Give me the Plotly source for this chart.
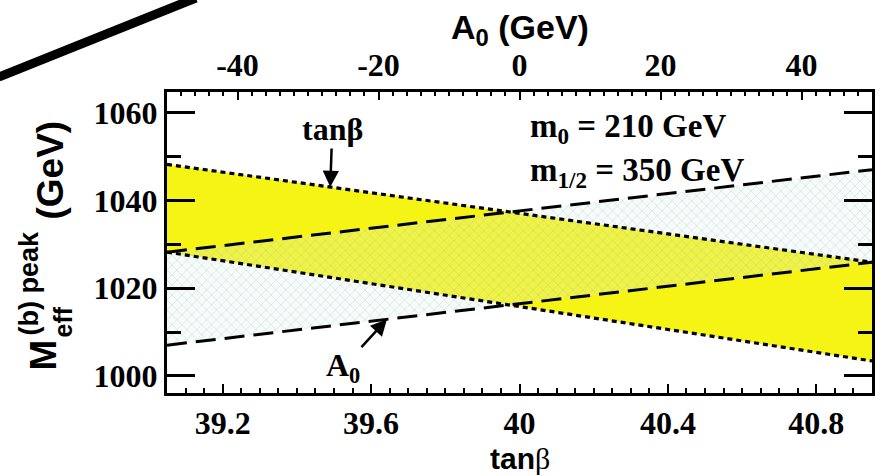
import numpy as np
import plotly.graph_objects as go

# M_eff peak position versus tan(beta) (bottom axis): edges of the band
tanb = [39.05, 40.95]
m_tanb_hi = [1048.2, 1025.9]
m_tanb_lo = [1028.2, 1003.4]

# M_eff peak position versus A0 (top axis): edges of the band
a0 = [-50.0, 50.0]
m_a0_hi = [1028.2, 1047.0]
m_a0_lo = [1007.0, 1025.9]

tanb_ticks = [39.2, 39.6, 40.0, 40.4, 40.8]
tanb_labels = ["39.2", "39.6", "40", "40.4", "40.8"]
a0_ticks = [-40, -20, 0, 20, 40]
a0_labels = ["-40", "-20", "0", "20", "40"]
m_ticks = [1000, 1020, 1040, 1060]
m_labels = ["1000", "1020", "1040", "1060"]

# canvas and plot-area geometry (pixels)
W, H = 885, 476
L, R, T, B = 167, 10, 92, 83
PW, PH = W - L - R, H - T - B


def px(x):
    return (x - L) / PW


def py(y):
    return (H - B - y) / PH


SERIF = "Liberation Serif"
SANS = "Liberation Sans"
tickfont = dict(family=SERIF, size=32, color="black", weight="bold")

fig = go.Figure()

# yellow tan(beta) band
fig.add_trace(go.Scatter(
    x=tanb + tanb[::-1], y=m_tanb_hi + m_tanb_lo[::-1],
    fill="toself", fillcolor="#f6f414", mode="lines", line=dict(width=0),
    xaxis="x", yaxis="y", hoverinfo="skip"))

# cross-hatched A0 band
fig.add_trace(go.Scatter(
    x=a0 + a0[::-1], y=m_a0_hi + m_a0_lo[::-1],
    fill="toself", fillcolor="rgba(220,242,236,0.22)",
    fillpattern=dict(shape="x", size=7, solidity=0.15, fgcolor="#93bdb0",
                     fillmode="overlay"),
    mode="lines", line=dict(width=0),
    xaxis="x2", yaxis="y", hoverinfo="skip"))

# dashed A0 edges
for ys in (m_a0_hi, m_a0_lo):
    fig.add_trace(go.Scatter(
        x=a0, y=ys, mode="lines",
        line=dict(color="black", width=3, dash="20px,9px"),
        xaxis="x2", yaxis="y", hoverinfo="skip"))

# dotted tan(beta) edges, on a hidden copy of the bottom axis so they sit on top
for ys in (m_tanb_hi, m_tanb_lo):
    fig.add_trace(go.Scatter(
        x=tanb, y=ys, mode="lines",
        line=dict(color="black", width=3.2, dash="5px,4px"),
        xaxis="x3", yaxis="y", hoverinfo="skip"))

fig.update_layout(
    width=W, height=H, margin=dict(l=L, r=R, t=T, b=B),
    paper_bgcolor="white", plot_bgcolor="white", showlegend=False,
    xaxis=dict(
        range=[tanb[0], tanb[1]], tickmode="array", tickvals=tanb_ticks,
        ticktext=tanb_labels, ticks="inside", ticklen=9, tickwidth=2,
        tickcolor="black", showline=True, linewidth=3, linecolor="black",
        showgrid=False, zeroline=False, tickfont=tickfont,
        minor=dict(tickmode="linear", tick0=39.0, dtick=0.05, ticks="inside",
                   ticklen=5, tickwidth=2, tickcolor="black", showgrid=False)),
    xaxis2=dict(
        overlaying="x", side="top", anchor="y", range=[a0[0], a0[1]],
        tickmode="array", tickvals=a0_ticks, ticktext=a0_labels,
        ticks="inside", ticklen=8, tickwidth=2, tickcolor="black",
        showline=True, linewidth=3, linecolor="black", showgrid=False,
        zeroline=False, tickfont=tickfont,
        minor=dict(tickmode="linear", tick0=-50, dtick=2, ticks="inside",
                   ticklen=4, tickwidth=2, tickcolor="black", showgrid=False)),
    xaxis3=dict(overlaying="x", anchor="y", range=[tanb[0], tanb[1]],
                visible=False),
    yaxis=dict(
        range=[996.1, 1064.7], tickmode="array", tickvals=m_ticks,
        ticktext=m_labels, ticks="inside", ticklen=28, tickwidth=2.5,
        tickcolor="black", showline=True, linewidth=3, linecolor="black",
        mirror="ticks", showgrid=False, zeroline=False, tickfont=tickfont,
        minor=dict(tickmode="linear", tick0=1000, dtick=10, ticks="inside",
                   ticklen=14, tickwidth=2.5, tickcolor="black",
                   showgrid=False)),
)

ann = []
# parameter labels
ann.append(dict(xref="paper", yref="paper", x=px(530), y=py(128),
                xanchor="left", yanchor="middle", showarrow=False,
                text="m<sub>0</sub> = 210 GeV",
                font=dict(family=SERIF, size=33, color="black", weight="bold")))
ann.append(dict(xref="paper", yref="paper", x=px(530), y=py(172),
                xanchor="left", yanchor="middle", showarrow=False,
                text="m<sub>1/2</sub> = 350 GeV",
                font=dict(family=SERIF, size=33, color="black", weight="bold")))

# arrows pointing at the band edges
tb_pt = 39.49
ann.append(dict(xref="x", yref="y", x=tb_pt,
                y=float(np.interp(tb_pt, tanb, m_tanb_hi)),
                ax=2, ay=-58, text="tanβ", showarrow=True,
                arrowhead=2, arrowsize=1.3, arrowwidth=2.5, arrowcolor="black",
                standoff=0,
                font=dict(family=SERIF, size=32, color="black", weight="bold")))
a0_pt = -18.8
ann.append(dict(xref="x2", yref="y", x=a0_pt,
                y=float(np.interp(a0_pt, a0, m_a0_lo)),
                ax=-44, ay=48, text="A<sub>0</sub>", showarrow=True,
                arrowhead=2, arrowsize=1.3, arrowwidth=2.5, arrowcolor="black",
                standoff=0,
                font=dict(family=SERIF, size=32, color="black", weight="bold")))

# axis titles
ann.append(dict(xref="paper", yref="paper", x=px(522), y=py(30),
                xanchor="center", yanchor="middle", showarrow=False,
                text="A<sub>0</sub> (GeV)",
                font=dict(family=SANS, size=34, color="black", weight="bold")))
ann.append(dict(xref="paper", yref="paper", x=px(522), y=0.0,
                yshift=-83, xanchor="center", yanchor="bottom",
                showarrow=False, borderpad=0,
                text="tan<span style='font-family:Liberation Serif;font-weight:normal'>β</span>",
                font=dict(family=SANS, size=30, color="black", weight="bold")))
ann.append(dict(xref="paper", yref="paper", x=px(42), y=py(355),
                xanchor="center", yanchor="middle", showarrow=False,
                textangle=-90, text="M",
                font=dict(family=SANS, size=37, color="black", weight="bold")))
ann.append(dict(xref="paper", yref="paper", x=px(63), y=py(322),
                xanchor="center", yanchor="middle", showarrow=False,
                textangle=-90, text="eff",
                font=dict(family=SANS, size=25, color="black", weight="bold")))
ann.append(dict(xref="paper", yref="paper", x=px(28), y=py(283),
                xanchor="center", yanchor="middle", showarrow=False,
                textangle=-90, text="(b) peak",
                font=dict(family=SANS, size=27, color="black", weight="bold")))
ann.append(dict(xref="paper", yref="paper", x=px(50), y=py(170),
                xanchor="center", yanchor="middle", showarrow=False,
                textangle=-90, text="(GeV)",
                font=dict(family=SANS, size=37, color="black", weight="bold")))
fig.update_layout(annotations=ann)

# heavy diagonal stroke across the upper-left corner
fig.add_shape(type="line", xref="paper", yref="paper",
              x0=px(-2), y0=py(77), x1=px(196), y1=py(-2),
              line=dict(color="black", width=9))

fig.write_html("out.html")
